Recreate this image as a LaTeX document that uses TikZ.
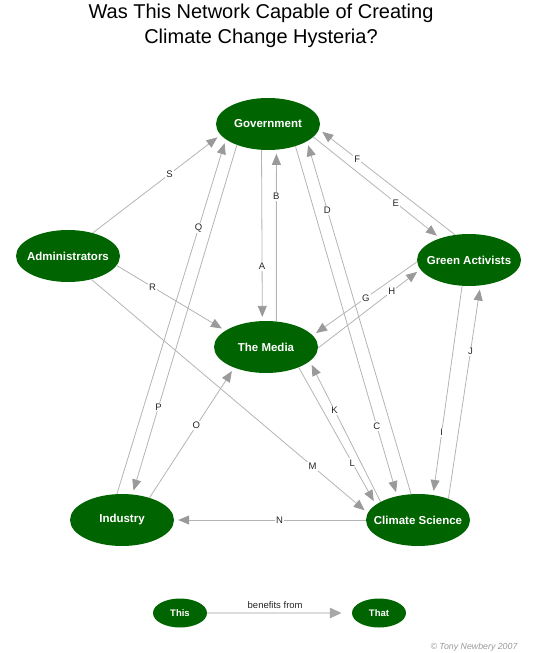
\documentclass[tikz,border=0pt]{standalone}
\usepackage{fontspec}
\setmainfont{Liberation Sans}
\usetikzlibrary{shapes.geometric,arrows.meta}
\definecolor{nodegreen}{HTML}{006400}
\definecolor{linegray}{HTML}{B4B4B4}
\definecolor{tipgray}{HTML}{9A9A9A}
\definecolor{legline}{HTML}{DCDCDC}
\definecolor{legtip}{HTML}{A8A8A8}
\definecolor{copygray}{HTML}{999999}
\newcommand{\zw}[1]{\makebox[0pt]{#1}}
\begin{document}
\begin{tikzpicture}[x=1pt,y=-1pt,
  ent/.style={ellipse, fill=nodegreen, inner sep=0pt, text=white,
    font=\fontsize{11.5}{13}\selectfont\bfseries,
    minimum width=104pt, minimum height=52pt},
  smallent/.style={ellipse, fill=nodegreen, inner sep=0pt, text=white,
    font=\fontsize{9.5}{11}\selectfont\bfseries,
    minimum width=54pt, minimum height=29pt},
  edge/.style={draw=linegray, line width=0.8pt,
    -{Triangle[length=11pt,width=9pt,color=tipgray]}, shorten >=4pt},
  lab/.style={fill=white, inner sep=1.2pt,
    font=\fontsize{9.5}{11}\selectfont, text=black!85},
  legedge/.style={draw=legline, line width=2.6pt,
    -{Triangle[length=12pt,width=10pt,color=legtip]}, shorten >=10pt}
]
\useasboundingbox (0,0) rectangle (540,653);

% title
\node (title) at (261,26) [align=center, font=\fontsize{20}{25}\selectfont]
  {Was This Network Capable of Creating\\Climate Change Hysteria?};

% nodes
\node[ent] (gov) at (268,124) {\zw{Government}};
\node[ent] (adm) at (68,256) {\zw{Administrators}};
\node[ent] (ga)  at (469,260) {\zw{Green Activists}};
\node[ent] (med) at (266,347) {\zw{The Media}};
\node[ent] (ind) at (122,520) {\zw{Industry}};
\node[ent] (cs)  at (418,520) {\zw{Climate Science}};

% edges
\draw[edge] (adm.43.9)  -- node[lab,pos=0.6]{S}   (gov.193.5);
\draw[edge] (adm.-11.4) -- node[lab,pos=0.33]{R}  (med.158.9);
\draw[edge] (adm.-45)   -- node[lab,pos=0.8]{M}   (cs.172);
\draw[edge] (ind.101.8) -- node[lab,pos=0.75]{Q}  (gov.200);
\draw[edge] (gov.214.1) -- node[lab,pos=0.75]{P}  (ind.68.2);
\draw[edge] (gov.256.9) -- node[lab,pos=0.68]{A}  (med.98.8);
\draw[edge] (med.68.6)  -- node[lab,pos=0.73]{B}  (gov.-72.7);
\draw[edge] (gov.-39.4) -- node[lab,pos=0.8]{C}   (cs.131.2);
\draw[edge] (cs.105.6)  -- node[lab,pos=0.805]{D} (gov.-24.1);
\draw[edge] (gov.-16.1) -- node[lab,pos=0.65]{E}  (ga.143.4);
\draw[edge] (ga.119.2)  -- node[lab,pos=0.72]{F}  (gov.-6.8);
\draw[edge] (ga.182.2)  -- node[lab,pos=0.49]{G}  (med.14.9);
\draw[edge] (med.-1)    -- node[lab,pos=0.72]{H}  (ga.191.8);
\draw[edge] (ga.-105.2) -- node[lab,pos=0.7]{I}   (cs.59.6);
\draw[edge] (cs.35)     -- node[lab,pos=0.69]{J}  (ga.-66.6);
\draw[edge] (cs.154)    -- node[lab,pos=0.65]{K}  (med.-18.6);
\draw[edge] (med.-32)   -- node[lab,pos=0.695]{L} (cs.160.3);
\draw[edge] (cs.180)    -- node[lab,pos=0.45]{N}  (ind.0);
\draw[edge] (ind.39.6)  -- node[lab,pos=0.555]{O} (med.213.5);

% legend
\node[smallent] (this) at (180,613) {\zw{This}};
\node[smallent] (that) at (379,613) {\zw{That}};
\draw[legedge] (this.east) -- node[above=3pt, pos=0.47, font=\fontsize{9.5}{11}\selectfont, text=black!85, inner sep=0pt]{benefits from} (that.west);

\node (copy) at (474,647) [font=\fontsize{8.8}{10}\selectfont\itshape, text=copygray] {© Tony Newbery 2007};
\end{tikzpicture}
\end{document}
